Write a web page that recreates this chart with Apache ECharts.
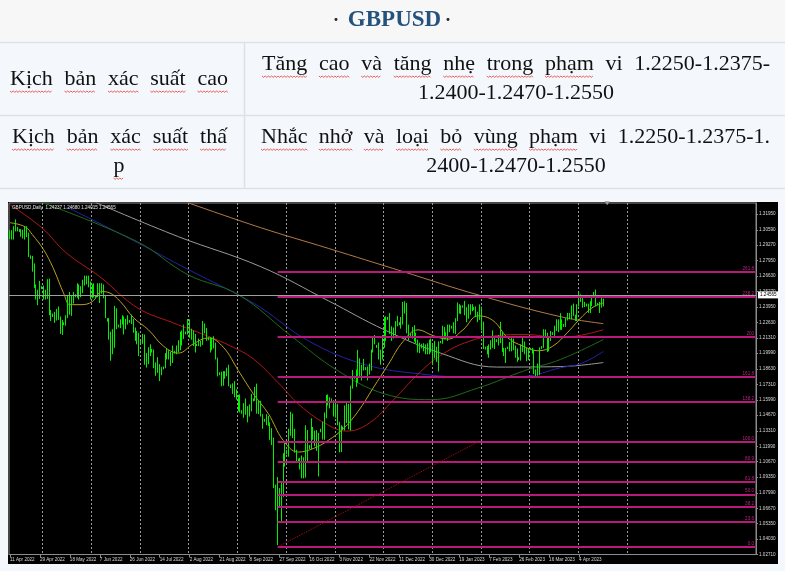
<!DOCTYPE html>
<html><head><meta charset="utf-8">
<script src="https://cdn.jsdelivr.net/npm/echarts@6/dist/echarts.min.js"></script>
<style>html,body{margin:0;padding:0;background:#f4f8fc;}#c{width:785px;height:571px;}</style>
</head><body><div id="c"></div>
<script>
// ---------- DATA ----------
const dateTicks = ['11 Apr 2022','29 Apr 2022','18 May 2022','7 Jun 2022','26 Jun 2022','14 Jul 2022','2 Aug 2022','21 Aug 2022','8 Sep 2022','27 Sep 2022','16 Oct 2022','3 Nov 2022','22 Nov 2022','11 Dec 2022','30 Dec 2022','19 Jan 2023','7 Feb 2023','26 Feb 2023','16 Mar 2023','4 Apr 2023'];
const yTicks = [1.31950,1.30590,1.29270,1.27950,1.26630,1.25270,1.23950,1.22630,1.21310,1.19990,1.18630,1.17310,1.15990,1.14670,1.13310,1.11990,1.10670,1.09350,1.07990,1.06670,1.05350,1.04030,1.02710];
// [open, close, low, high]
const candles = [
[1.3035,1.3030,1.2980,1.3055],[1.3030,1.3000,1.2975,1.3055],[1.3000,1.3070,1.2975,1.3090],[1.3070,1.3065,1.3045,1.3148],[1.3065,1.3060,1.3045,1.3085],
[1.3055,1.3050,1.3040,1.3065],[1.3050,1.3035,1.3000,1.3065],[1.3035,1.3000,1.2985,1.3060],[1.3000,1.3065,1.2975,1.3090],[1.3065,1.3030,1.2995,1.3090],[1.3030,1.2835,1.2825,1.3035],
[1.2830,1.2825,1.2810,1.2840],[1.2825,1.2740,1.2700,1.2835],[1.2740,1.2575,1.2560,1.2770],[1.2575,1.2480,1.2460,1.2590],[1.2480,1.2485,1.2411,1.2545],[1.2485,1.2575,1.2465,1.2620],
[1.2570,1.2560,1.2550,1.2575],[1.2560,1.2490,1.2460,1.2580],[1.2490,1.2490,1.2460,1.2545],[1.2490,1.2620,1.2465,1.2635],[1.2620,1.2360,1.2325,1.2640],[1.2360,1.2335,1.2275,1.2370],
[1.2330,1.2320,1.2310,1.2340],[1.2320,1.2330,1.2260,1.2355],[1.2330,1.2320,1.2280,1.2380],[1.2320,1.2305,1.2285,1.2400],[1.2305,1.2200,1.2165,1.2315],[1.2200,1.2260,1.2156,1.2285],
[1.2255,1.2250,1.2240,1.2265],[1.2250,1.2310,1.2235,1.2325],[1.2310,1.2490,1.2300,1.2500],[1.2490,1.2345,1.2330,1.2525],[1.2345,1.2475,1.2320,1.2495],[1.2475,1.2490,1.2425,1.2525],
[1.2495,1.2490,1.2480,1.2505],[1.2490,1.2575,1.2475,1.2600],[1.2575,1.2530,1.2460,1.2590],[1.2530,1.2560,1.2480,1.2575],[1.2560,1.2600,1.2515,1.2630],[1.2600,1.2625,1.2580,1.2665],
[1.2625,1.2620,1.2590,1.2665],[1.2620,1.2600,1.2565,1.2665],[1.2600,1.2480,1.2460,1.2615],[1.2480,1.2580,1.2470,1.2590],[1.2580,1.2490,1.2480,1.2600],
[1.2485,1.2480,1.2470,1.2495],[1.2480,1.2530,1.2480,1.2600],[1.2530,1.2590,1.2430,1.2600],[1.2590,1.2535,1.2510,1.2600],[1.2535,1.2490,1.2470,1.2590],[1.2490,1.2310,1.2300,1.2500],
[1.2290,1.2285,1.2270,1.2300],[1.2285,1.2160,1.2115,1.2300],[1.2160,1.2000,1.1934,1.2185],[1.2000,1.2180,1.1990,1.2205],[1.2180,1.2350,1.2045,1.2406],[1.2350,1.2225,1.2205,1.2385],
[1.2230,1.2235,1.2220,1.2245],[1.2235,1.2270,1.2215,1.2290],[1.2270,1.2275,1.2245,1.2325],[1.2275,1.2265,1.2160,1.2315],[1.2265,1.2270,1.2205,1.2295],[1.2270,1.2265,1.2245,1.2325],
[1.2270,1.2275,1.2260,1.2285],[1.2275,1.2260,1.2250,1.2330],[1.2260,1.2190,1.2175,1.2295],[1.2190,1.2125,1.2105,1.2220],[1.2125,1.2175,1.2075,1.2190],[1.2175,1.2095,1.1975,1.2175],
[1.2090,1.2095,1.2080,1.2105],[1.2095,1.2125,1.2080,1.2165],[1.2125,1.1960,1.1900,1.2160],[1.1960,1.1920,1.1875,1.2000],[1.1920,1.2030,1.1905,1.2050],[1.2030,1.2030,1.1975,1.2075],
[1.2025,1.2020,1.2005,1.2035],[1.2020,1.1890,1.1870,1.2030],[1.1890,1.1890,1.1805,1.1920],[1.1890,1.1895,1.1830,1.1965],[1.1895,1.1830,1.1760,1.1905],[1.1830,1.1865,1.1810,1.1880],
[1.1870,1.1875,1.1860,1.1885],[1.1875,1.1965,1.1870,1.2000],[1.1965,1.2010,1.1945,1.2035],[1.2010,1.1965,1.1945,1.2025],[1.1965,1.1985,1.1890,1.2010],[1.1985,1.2000,1.1915,1.2065],
[1.2005,1.2010,1.1995,1.2020],[1.2010,1.2040,1.1990,1.2065],[1.2040,1.2035,1.2005,1.2110],[1.2035,1.2165,1.2025,1.2185],[1.2165,1.2175,1.2065,1.2195],[1.2175,1.2180,1.2120,1.2245],
[1.2175,1.2170,1.2160,1.2185],[1.2170,1.2240,1.2160,1.2293],[1.2240,1.2165,1.2130,1.2290],[1.2165,1.2150,1.2115,1.2210],[1.2150,1.2155,1.2060,1.2195],[1.2155,1.2075,1.2005,1.2165],
[1.2070,1.2075,1.2060,1.2080],[1.2075,1.2075,1.2060,1.2125],[1.2075,1.2075,1.2055,1.2105],[1.2075,1.2215,1.2070,1.2276],[1.2215,1.2200,1.2170,1.2255],[1.2200,1.2130,1.2105,1.2215],
[1.2125,1.2120,1.2110,1.2135],[1.2120,1.2055,1.2005,1.2135],[1.2055,1.2105,1.2025,1.2130],[1.2105,1.2060,1.2040,1.2145],[1.2060,1.1960,1.1945,1.2090],[1.1960,1.1830,1.1800,1.1960],
[1.1825,1.1820,1.1810,1.1835],[1.1820,1.1765,1.1715,1.1840],[1.1765,1.1825,1.1720,1.1845],[1.1825,1.1830,1.1780,1.1845],[1.1830,1.1835,1.1800,1.1875],[1.1835,1.1730,1.1715,1.1900],
[1.1720,1.1715,1.1700,1.1730],[1.1715,1.1695,1.1650,1.1740],[1.1695,1.1635,1.1620,1.1760],[1.1635,1.1620,1.1600,1.1690],[1.1620,1.1540,1.1500,1.1640],[1.1540,1.1510,1.1490,1.1645],
[1.1500,1.1495,1.1480,1.1510],[1.1495,1.1525,1.1445,1.1570],[1.1525,1.1515,1.1470,1.1610],[1.1515,1.1530,1.1405,1.1545],[1.1530,1.1505,1.1455,1.1560],[1.1505,1.1590,1.1500,1.1650],
[1.1595,1.1600,1.1585,1.1610],[1.1600,1.1685,1.1590,1.1710],[1.1685,1.1500,1.1480,1.1738],[1.1500,1.1545,1.1475,1.1590],[1.1545,1.1470,1.1455,1.1590],[1.1470,1.1415,1.1350,1.1475],
[1.1420,1.1425,1.1410,1.1435],[1.1425,1.1435,1.1380,1.1475],[1.1435,1.1385,1.1375,1.1460],[1.1385,1.1270,1.1255,1.1405],[1.1270,1.1260,1.1210,1.1355],[1.1260,1.0855,1.0840,1.1275],
[1.0850,1.0700,1.0650,1.0870],[1.0700,1.0685,1.0350,1.0935],[1.0685,1.0735,1.0680,1.0840],[1.0735,1.0890,1.0540,1.0890],[1.0890,1.1120,1.0765,1.1140],[1.1120,1.1165,1.1025,1.1235],
[1.1160,1.1150,1.1130,1.1170],[1.1150,1.1325,1.1110,1.1350],[1.1325,1.1475,1.1290,1.1496],[1.1475,1.1320,1.1270,1.1480],[1.1320,1.1160,1.1145,1.1350],[1.1160,1.1090,1.1055,1.1170],
[1.1085,1.1080,1.1065,1.1095],[1.1080,1.1060,1.1000,1.1100],[1.1060,1.0970,1.0925,1.1120],[1.0970,1.1095,1.0924,1.1105],[1.1095,1.1330,1.0930,1.1380],[1.1330,1.1175,1.1060,1.1340],
[1.1190,1.1195,1.1175,1.1210],[1.1195,1.1355,1.1175,1.1440],[1.1355,1.1320,1.1255,1.1365],[1.1320,1.1210,1.1200,1.1335],[1.1210,1.1225,1.1160,1.1338],[1.1225,1.1310,1.0940,1.1315],
[1.1330,1.1340,1.1320,1.1350],[1.1340,1.1290,1.1257,1.1410],[1.1290,1.1475,1.1255,1.1490],[1.1475,1.1620,1.1440,1.1640],[1.1620,1.1590,1.1550,1.1645],[1.1590,1.1620,1.1525,1.1620],
[1.1600,1.1590,1.1580,1.1610],[1.1590,1.1465,1.1455,1.1595],[1.1465,1.1510,1.1445,1.1565],[1.1510,1.1390,1.1380,1.1565],[1.1390,1.1160,1.1147,1.1410],[1.1160,1.1375,1.1150,1.1380],
[1.1360,1.1355,1.1340,1.1370],[1.1355,1.1510,1.1335,1.1550],[1.1510,1.1545,1.1400,1.1580],[1.1545,1.1355,1.1345,1.1565],[1.1355,1.1710,1.1335,1.1720],[1.1710,1.1825,1.1695,1.1855],
[1.1795,1.1790,1.1780,1.1805],[1.1790,1.1755,1.1710,1.1860],[1.1755,1.1855,1.1745,1.2028],[1.1855,1.1860,1.1800,1.1955],[1.1860,1.1890,1.1765,1.1900],[1.1890,1.1890,1.1850,1.1950],
[1.1870,1.1865,1.1855,1.1880],[1.1865,1.1825,1.1765,1.1885],[1.1825,1.1885,1.1815,1.1910],[1.1885,1.2015,1.1850,1.2030],[1.2015,1.2115,1.2005,1.2130],[1.2115,1.2090,1.2075,1.2155],
[1.2060,1.2055,1.2045,1.2070],[1.2055,1.1965,1.1945,1.2090],[1.1965,1.1965,1.1900,1.2030],[1.1965,1.2055,1.1945,1.2155],[1.2055,1.2250,1.2045,1.2310],[1.2250,1.2290,1.2105,1.2315],
[1.2295,1.2300,1.2285,1.2310],[1.2300,1.2190,1.2165,1.2345],[1.2190,1.2160,1.2105,1.2230],[1.2160,1.2190,1.2125,1.2220],[1.2190,1.2265,1.2155,1.2275],[1.2265,1.2260,1.2230,1.2320],
[1.2255,1.2250,1.2240,1.2265],[1.2250,1.2285,1.2210,1.2310],[1.2285,1.2370,1.2245,1.2440],[1.2370,1.2420,1.2340,1.2446],[1.2420,1.2190,1.2170,1.2430],[1.2190,1.2150,1.2110,1.2245],
[1.2155,1.2160,1.2145,1.2170],[1.2160,1.2180,1.2125,1.2225],[1.2180,1.2160,1.2100,1.2240],[1.2160,1.2100,1.2085,1.2175],[1.2100,1.2030,1.2005,1.2115],[1.2030,1.2050,1.2000,1.2090],
[1.2050,1.2060,1.2040,1.2080],[1.2060,1.2025,1.2015,1.2085],[1.2025,1.2020,1.1990,1.2075],[1.2020,1.2060,1.1990,1.2085],[1.2060,1.2095,1.1990,1.2115],
[1.2095,1.2055,1.2005,1.2125],[1.2055,1.1975,1.1900,1.2080],[1.1975,1.2050,1.1955,1.2105],[1.2050,1.1935,1.1925,1.2055],[1.1935,1.2090,1.1841,1.2100],
[1.2090,1.2095,1.2085,1.2105],[1.2095,1.2185,1.2080,1.2235],[1.2185,1.2155,1.2120,1.2225],[1.2155,1.2150,1.2120,1.2180],[1.2150,1.2220,1.2105,1.2245],[1.2220,1.2230,1.2180,1.2245],
[1.2225,1.2220,1.2210,1.2235],[1.2220,1.2200,1.2170,1.2265],[1.2200,1.2280,1.2165,1.2300],[1.2280,1.2390,1.2275,1.2435],[1.2390,1.2390,1.2340,1.2420],[1.2390,1.2400,1.2335,1.2410],
[1.2395,1.2400,1.2390,1.2410],[1.2400,1.2370,1.2325,1.2448],[1.2370,1.2335,1.2265,1.2395],[1.2335,1.2410,1.2295,1.2420],[1.2410,1.2405,1.2330,1.2420],[1.2405,1.2395,1.2360,1.2420],
[1.2385,1.2380,1.2370,1.2395],[1.2380,1.2325,1.2310,1.2400],[1.2325,1.2320,1.2265,1.2355],[1.2320,1.2390,1.2285,1.2418],[1.2390,1.2230,1.2195,1.2400],[1.2230,1.2050,1.2035,1.2270],
[1.2045,1.2040,1.2030,1.2055],[1.2040,1.2045,1.1990,1.2060],[1.2045,1.2050,1.1960,1.2075],[1.2050,1.2070,1.2030,1.2110],[1.2070,1.2115,1.2045,1.2195],[1.2115,1.2115,1.2035,1.2135],
[1.2110,1.2105,1.2095,1.2120],[1.2105,1.2140,1.2065,1.2155],[1.2140,1.2170,1.2085,1.2269],[1.2170,1.2025,1.2010,1.2185],[1.2025,1.2030,1.1975,1.2045],[1.2030,1.2035,1.1915,1.2045],
[1.2040,1.2045,1.2035,1.2055],[1.2045,1.2090,1.2015,1.2095],[1.2090,1.2110,1.2015,1.2145],[1.2110,1.2050,1.2025,1.2125],[1.2050,1.1980,1.1960,1.2065],[1.1980,1.1945,1.1925,1.2040],
[1.1950,1.1955,1.1940,1.1965],[1.1955,1.2065,1.1935,1.2075],[1.2065,1.2025,1.2010,1.2145],[1.2025,1.2040,1.1990,1.2100],[1.2040,1.1945,1.1930,1.2045],[1.1945,1.2030,1.1940,1.2040],
[1.2030,1.2035,1.2025,1.2045],[1.2035,1.2020,1.1995,1.2045],[1.2020,1.1825,1.1820,1.2030],[1.1825,1.1835,1.1803,1.1860],[1.1835,1.1845,1.1805,1.1910],[1.1845,1.2030,1.1810,1.2050],
[1.2040,1.2050,1.2035,1.2060],[1.2050,1.2175,1.2045,1.2205],[1.2175,1.2160,1.2140,1.2203],[1.2160,1.2055,1.2010,1.2175],[1.2055,1.2115,1.2015,1.2145],[1.2115,1.2175,1.2105,1.2190],
[1.2170,1.2165,1.2155,1.2180],[1.2165,1.2225,1.2135,1.2235],[1.2225,1.2230,1.2190,1.2290],[1.2230,1.2270,1.2180,1.2290],[1.2270,1.2280,1.2200,1.2343],[1.2280,1.2230,1.2200,1.2290],
[1.2235,1.2240,1.2225,1.2250],[1.2240,1.2295,1.2225,1.2300],[1.2295,1.2335,1.2280,1.2345],[1.2335,1.2310,1.2290,1.2345],[1.2310,1.2390,1.2290,1.2410],[1.2390,1.2335,1.2320,1.2425],
[1.2320,1.2315,1.2275,1.2330],[1.2315,1.2415,1.2275,1.2420],[1.2415,1.2500,1.2400,1.2525],[1.2500,1.2455,1.2440,1.2505],[1.2455,1.2445,1.2390,1.2475],[1.2445,1.2415,1.2395,1.2440],
[1.2410,1.2415,1.2400,1.2425],[1.2415,1.2365,1.2345,1.2425],[1.2365,1.2425,1.2345,1.2445],[1.2425,1.2495,1.2405,1.2500],[1.2495,1.2515,1.2480,1.2525],[1.2515,1.2415,1.2400,1.2546],
[1.2420,1.2425,1.2410,1.2430],[1.2425,1.2390,1.2345,1.2440],[1.2390,1.2430,1.2390,1.2475],[1.24237,1.24565,1.24015,1.24680]
];
// moving averages: [bar index, price]
const maYellow = [[0,1.3120],[8,1.3086],[12,1.3017],[18,1.2888],[23,1.2734],[29,1.2502],[32,1.2416],[38,1.2416],[44,1.2442],[49,1.2528],[53,1.2519],[59,1.2442],[66,1.2304],[74,1.2200],[82,1.2060],[90,1.2000],[98,1.2080],[106,1.2130],[114,1.2050],[122,1.1850],[130,1.1650],[138,1.1480],[146,1.1250],[154,1.1150],[162,1.1180],[170,1.1250],[178,1.1350],[186,1.1500],[194,1.1700],[202,1.1900],[210,1.2100],[218,1.2200],[226,1.2150],[234,1.2120],[242,1.2200],[250,1.2320],[258,1.2280],[266,1.2130],[274,1.2060],[282,1.2020],[290,1.2060],[298,1.2180],[306,1.2320],[312,1.2400],[317,1.2430]];
const maRed = [[0,1.3275],[17,1.3077],[30,1.2862],[48,1.2656],[68,1.2390],[87,1.2261],[105,1.2150],[118,1.2060],[130,1.1950],[143,1.1750],[155,1.1550],[168,1.1400],[180,1.1330],[192,1.1400],[205,1.1600],[218,1.1820],[230,1.1980],[245,1.2100],[260,1.2150],[275,1.2160],[294,1.2133],[317,1.2201]];
const maGreen = [[18,1.3289],[68,1.2957],[95,1.2674],[122,1.2502],[150,1.2150],[175,1.1850],[200,1.1650],[225,1.1600],[250,1.1700],[275,1.1850],[294,1.1945],[317,1.2117]];
const maBlue = [[30,1.3258],[68,1.2950],[95,1.2720],[122,1.2500],[134,1.2390],[160,1.2100],[190,1.1900],[220,1.1820],[250,1.1790],[275,1.1800],[294,1.1874],[305,1.1910],[317,1.2014]];
const maGray = [[46,1.3292],[90,1.3000],[134,1.2742],[170,1.2450],[200,1.2200],[230,1.2000],[260,1.1880],[294,1.1884],[317,1.1919]];
const maOrange = [[95,1.3292],[134,1.3077],[170,1.2900],[210,1.2700],[250,1.2500],[294,1.2313],[317,1.2253]];
const fibLow = 1.0335, fibHigh = 1.1237, fibStartBar = 143;
const fibRatios = [0,23.6,38.2,50,61.8,80.9,100,138.2,161.8,200,238.2,261.8];
const fibLabels = ['0.0','23.6','38.2','50.0','61.8','80.9','100.0','138.2','161.8','200','238.2','261.8'];
const trendLine = [[143,1.0335],[250,1.1237]];
const lastPrice = 1.24565;
const headerText = 'GBPUSD,Daily  1.24237 1.24680 1.24015 1.24565';
const slotCount = 399;
const shiftMarkerBar = 319;
const gridBars = [18,44,70,96,122,148,174,200,226,252,278,304,330];

// ---------- PAGE TEXT ----------
const SMALL = '"Liberation Sans",Arial,sans-serif';
const SMALL_SIZE = 4.6;
const FONT = '22px "Liberation Serif"';
const mctx = document.createElement('canvas').getContext('2d');
mctx.font = FONT;
const g = [];
g.push({type:'rect', z:-30, shape:{x:0,y:0,width:785,height:42}, style:{fill:'#f7f7f7'}});
g.push({type:'rect', z:-30, shape:{x:0,y:42,width:785,height:146}, style:{fill:'#f4f8fd'}});
[42.5,115.5,188.5].forEach(y=>g.push({type:'line', z:-20, shape:{x1:0,y1:y,x2:785,y2:y}, style:{stroke:'#dbe1e8', lineWidth:1.5}}));
g.push({type:'line', z:-20, shape:{x1:244.5,y1:42,x2:244.5,y2:188}, style:{stroke:'#dbe1e8', lineWidth:1.5}});
g.push({type:'text', x:336, y:21, style:{text:'·', font:'bold 18px "Liberation Serif"', fill:'#222', align:'center', verticalAlign:'middle'}});
g.push({type:'text', x:394.5, y:20, style:{text:'GBPUSD', font:'bold 23px "Liberation Serif"', fill:'#24527c', align:'center', verticalAlign:'middle'}});
g.push({type:'text', x:448, y:21, style:{text:'·', font:'bold 18px "Liberation Serif"', fill:'#222', align:'center', verticalAlign:'middle'}});
function wave(x0,x1,y){
  const pts=[]; let k=0;
  for(let x=x0;x<=x1;x+=1.6){pts.push([x, y + (k%2?1.3:0)]); k++;}
  g.push({type:'polyline', shape:{points:pts}, style:{stroke:'#e53a2e', lineWidth:0.8, fill:null}});
}
function word(t,x,base,ul){
  const w = mctx.measureText(t).width;
  g.push({type:'text', x:x, y:base-7.3, style:{text:t, font:FONT, fill:'#111', align:'left', verticalAlign:'middle'}});
  if(ul) wave(x, x+w, base+4);
  return w;
}
function justified(words,x0,x1,base,ul){
  const ws = words.map(t=>mctx.measureText(t).width);
  const gap = (x1-x0-ws.reduce((a,b)=>a+b,0))/(words.length-1);
  let x=x0;
  words.forEach((t,k)=>{word(t,x,base,ul[k]); x+=ws[k]+gap;});
}
function centered(t,cx,base,ul){
  const w = mctx.measureText(t).width;
  word(t,cx-w/2,base,ul);
}
justified(['Kịch','bản','xác','suất','cao'],10,228,87,[1,1,1,1,1]);
justified(['Tăng','cao','và','tăng','nhẹ','trong','phạm','vi','1.2250-1.2375-'],262,770,72,[1,1,1,1,1,1,1,0,0]);
centered('1.2400-1.2470-1.2550',516,101,0);
justified(['Kịch','bản','xác','suất','thấ'],12,227,145,[1,1,1,1,1]);
centered('p',119,174,1);
justified(['Nhắc','nhở','và','loại','bỏ','vùng','phạm','vi','1.2250-1.2375-1.'],261,770,145,[1,1,1,1,1,1,1,0,0]);
centered('2400-1.2470-1.2550',516,174,0);
// chart panel
g.push({type:'rect', z:-10, shape:{x:8,y:202,width:770,height:362}, style:{fill:'#000'}});
g.push({type:'text', z:50, x:12, y:207.5, style:{text:headerText, font:SMALL_SIZE+'px ' + SMALL, fill:'#e6e6e6', align:'left', verticalAlign:'middle'}});

// ---------- CHART ----------
const cats = Array.from({length:slotCount},(_,i)=>String(i));
const lbl = i => i%16===0 && i/16 < dateTicks.length;
function maSeries(data,color){
  return {type:'line', data:data, showSymbol:false, smooth:0.4, silent:true, z:3,
    lineStyle:{color:color, width:1}};
}
const fibLines = fibRatios.map((r,k)=>{
  const p = fibLow + r/100*(fibHigh-fibLow);
  return [{coord:[fibStartBar,p], lineStyle:{color:'#b8197a', width:2, type:'solid'},
           label:{show:true, formatter:fibLabels[k], position:'insideEndTop', color:'#c2208a', fontSize:SMALL_SIZE, fontFamily:SMALL, distance:1}},
          {coord:[slotCount-1,p]}];
});
const chart = echarts.init(document.getElementById('c'), null, {renderer:'canvas'});
chart.setOption({
  animation:false,
  backgroundColor:'#f4f8fc',
  graphic:{elements:g},
  grid:{left:9, top:203, width:747, height:351.5, show:true, borderColor:'#8c8c8c', borderWidth:1, backgroundColor:'transparent'},
  xAxis:{type:'category', data:cats, boundaryGap:true,
    axisLine:{show:true, lineStyle:{color:'#8c8c8c'}},
    axisTick:{show:true, alignWithLabel:true, interval:(i)=>lbl(i), length:3, lineStyle:{color:'#8c8c8c'}},
    axisLabel:{interval:(i)=>lbl(i), formatter:(v,i)=>dateTicks[i/16], align:'left', color:'#d8d8d8', fontSize:SMALL_SIZE, margin:3, fontFamily:SMALL, showMinLabel:true, hideOverlap:false},
    splitLine:{show:true, interval:(i)=>gridBars.indexOf(i)>=0, lineStyle:{color:'#9a9a9a', type:[2,2], width:1}}
  },
  yAxis:{type:'value', position:'right', min:1.0270, max:1.32893,
    axisLine:{show:true, lineStyle:{color:'#8c8c8c'}},
    axisTick:{show:true, customValues:yTicks, length:2, lineStyle:{color:'#8c8c8c'}},
    axisLabel:{customValues:yTicks, formatter:(v)=>v.toFixed(5), color:'#d8d8d8', fontSize:SMALL_SIZE, margin:3, fontFamily:SMALL},
    splitLine:{show:false}
  },
  series:[
    maSeries(maOrange,'#b57a45'),
    maSeries(maGray,'#9a9a9a'),
    maSeries(maBlue,'#2323a8'),
    maSeries(maGreen,'#1c6b1c'),
    maSeries(maRed,'#b01818'),
    maSeries(maYellow,'#b8a020'),
    {type:'candlestick', data:candles, barWidth:1, z:4,
      itemStyle:{color:'#00f000', color0:'#00f000', borderColor:'#00f000', borderColor0:'#00f000', borderWidth:1},
      markPoint:{silent:true, animation:false, data:[{coord:[shiftMarkerBar,1.3287], symbol:'triangle', symbolRotate:180, symbolSize:[5,4], itemStyle:{color:'#9a9a9a'}, label:{show:false}}]},
      markLine:{silent:true, symbol:['none','none'], animation:false,
        data:[].concat(fibLines,
          [[{coord:trendLine[0], lineStyle:{color:'#b01010', width:1, type:'dotted'}, label:{show:false}},{coord:trendLine[1]}],
           {yAxis:lastPrice, lineStyle:{color:'#a0a0a0', width:1, type:'solid'}, label:{show:true, position:'end', formatter:'1.24565', backgroundColor:'#fff', color:'#000', fontSize:SMALL_SIZE, fontFamily:SMALL, padding:[1,2], distance:2}}])
      }
    }
  ]
});
</script></body></html>
